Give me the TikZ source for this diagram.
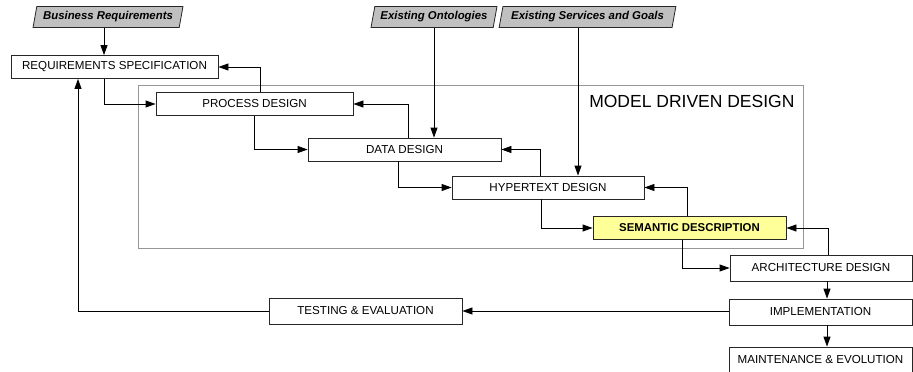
\documentclass[tikz,border=0pt]{standalone}
\usepackage{fontspec}
\setmainfont{Liberation Sans}
\usepackage{xcolor}
\usetikzlibrary{arrows.meta,shapes.geometric,positioning}
\definecolor{semyellow}{RGB}{255,255,153}
\definecolor{inputgray}{RGB}{192,192,192}
\definecolor{framegray}{RGB}{150,150,150}

\begin{document}
\begin{tikzpicture}[x=1pt, y=-1pt,
    box/.style={rectangle, draw=black!85, fill=white, line width=0.8pt, inner sep=0pt, minimum height=23pt, font=\fontsize{11.6}{13}\selectfont},
    source/.style={trapezium, trapezium left angle=72, trapezium right angle=108, trapezium stretches=true, draw=black!85, fill=inputgray, line width=0.8pt, inner sep=0pt, minimum height=21pt, font=\fontsize{11.4}{13}\selectfont\bfseries\itshape},
    arrow/.style={-{Triangle[length=10pt, width=7pt]}, line width=0.8pt}
]
    \useasboundingbox (0,0) rectangle (913,372);
    \clip (0,0) rectangle (913,372);

    % model driven frame
    \draw[framegray, line width=0.8pt] (138,85) rectangle (803,248);
    \node[anchor=east, font=\fontsize{17.5}{20}\selectfont] (mdd) at (798,101) {MODEL DRIVEN DESIGN};

    % inputs
    \node[source, minimum width=150pt] (busreq) at (108,17) {Business Requirements};
    \node[source, minimum width=126pt] (onto) at (434,17) {Existing Ontologies};
    \node[source, minimum width=177pt] (serv) at (587.5,17) {Existing Services and Goals};

    % phases
    \node[box, minimum width=207pt] (reqspec) at (114.5,67) {REQUIREMENTS SPECIFICATION};
    \node[box, minimum width=197pt] (procdes) at (254.5,104) {PROCESS DESIGN};
    \node[box, minimum width=193pt] (datades) at (404.5,149.5) {DATA DESIGN};
    \node[box, minimum width=192pt] (hypdes) at (548,187.5) {HYPERTEXT DESIGN};
    \node[box, minimum width=193pt, fill=semyellow, font=\fontsize{11.4}{13}\selectfont\bfseries] (semdesc) at (689.5,228) {SEMANTIC DESCRIPTION};
    \node[box, minimum width=182pt, minimum height=26pt] (archdes) at (821,268) {ARCHITECTURE DESIGN};
    \node[box, minimum width=183pt, minimum height=26pt] (impl) at (820.5,312) {IMPLEMENTATION};
    \node[box, minimum width=183pt, minimum height=26pt] (maint) at (820.5,360) {MAINTENANCE \& EVOLUTION};
    \node[box, minimum width=193pt, minimum height=26pt] (testeval) at (365.5,311) {TESTING \& EVALUATION};

    % inputs down
    \draw[arrow] ([xshift=-4pt]busreq.south) -- ([xshift=-4pt]busreq.south |- reqspec.north);
    \draw[arrow] (onto.south) -- (onto.south |- datades.north);
    \draw[arrow] ([xshift=-9.5pt]serv.south) -- ([xshift=-9.5pt]serv.south |- hypdes.north);

    % forward steps
    \draw[arrow] ([xshift=-10.5pt]reqspec.south) |- (procdes.west);
    \draw[arrow] (procdes.south) |- (datades.west);
    \draw[arrow] ([xshift=-6.5pt]datades.south) |- (hypdes.west);
    \draw[arrow] ([xshift=-7pt]hypdes.south) |- (semdesc.west);
    \draw[arrow] ([xshift=-7.5pt]semdesc.south) |- (archdes.west);
    \draw[arrow] ([xshift=6pt]archdes.south) -- ([xshift=6pt]archdes.south |- impl.north);
    \draw[arrow] ([xshift=6.5pt]impl.south) -- ([xshift=6.5pt]impl.south |- maint.north);

    % feedback steps
    \draw[arrow] ([xshift=5.5pt]procdes.north) |- (reqspec.east);
    \draw[arrow] ([xshift=3.5pt]datades.north) |- (procdes.east);
    \draw[arrow] ([xshift=-8pt]hypdes.north) |- (datades.east);
    \draw[arrow] ([xshift=-2.5pt]semdesc.north) |- (hypdes.east);
    \draw[arrow] ([xshift=7pt]archdes.north) |- (semdesc.east);

    % testing loop
    \draw[arrow] (impl.west |- testeval.east) -- (testeval.east);
    \draw[arrow] (testeval.west) -| ([xshift=-36.5pt]reqspec.south);
\end{tikzpicture}
\end{document}
